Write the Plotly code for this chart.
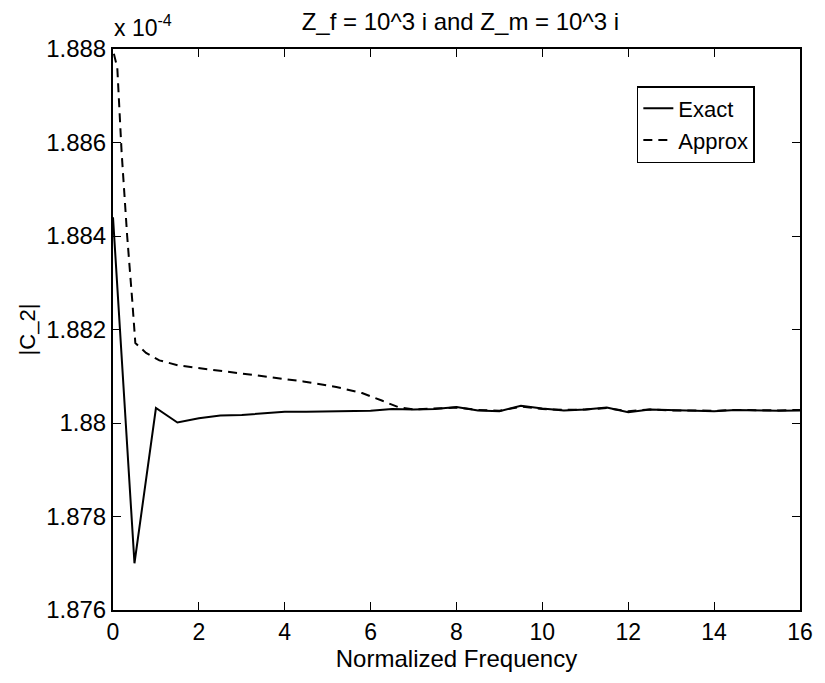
import plotly.graph_objects as go

# Values in units of 1e-4
exact_x = [0, 0.5, 1.0, 1.5, 2.0, 2.5, 3.0, 3.5, 4.0, 4.5, 5.0, 5.5, 6.0, 6.5, 7.0, 7.5,
           8.0, 8.5, 9.0, 9.5, 10.0, 10.5, 11.0, 11.5, 12.0, 12.5, 13.0, 13.5, 14.0, 14.5,
           15.0, 15.5, 16.0]
exact_y = [1.8844, 1.8770, 1.88032, 1.88001, 1.88010, 1.88016, 1.88017, 1.88020, 1.88024,
           1.88024, 1.88025, 1.88026, 1.88026, 1.88030, 1.88029, 1.88030, 1.88034, 1.88027,
           1.88025, 1.88037, 1.88031, 1.88027, 1.88029, 1.88033, 1.88023, 1.88029, 1.88028,
           1.88026, 1.88025, 1.88028, 1.88027, 1.88026, 1.88027]

approx_x = [0.02, 0.1, 0.2, 0.33, 0.45, 0.52, 0.77, 1.08, 1.53, 2.14, 2.91, 3.67, 4.43,
            5.2, 5.8, 6.26, 6.64, 7.0, 7.5, 8.0, 8.5, 9.0, 9.5, 10.0, 10.5, 11.0, 11.5,
            12.0, 12.5, 13.0, 13.5, 14.0, 14.5, 15.0, 15.5, 16.0]
approx_y = [1.8879, 1.8876, 1.8858, 1.8840, 1.8826, 1.88171, 1.88150, 1.88134, 1.88123,
            1.88116, 1.88107, 1.88098, 1.88089, 1.88077, 1.88064, 1.88048, 1.88034,
            1.88029, 1.88031, 1.88033, 1.88028, 1.88026, 1.88035, 1.88030, 1.88028,
            1.88029, 1.88032, 1.88025, 1.88029, 1.88027, 1.88027, 1.88026, 1.88028,
            1.88027, 1.88027, 1.88028]

y_ticks = [1.876, 1.878, 1.880, 1.882, 1.884, 1.886, 1.888]
y_tick_labels = ["1.876", "1.878", "1.88", "1.882", "1.884", "1.886", "1.888"]
x_ticks = [0, 2, 4, 6, 8, 10, 12, 14, 16]

FONT = "Liberation Sans, Arial, Helvetica, sans-serif"

fig = go.Figure()
fig.add_trace(go.Scatter(x=exact_x, y=exact_y, mode="lines", name="Exact",
                         line=dict(color="black", width=2)))
fig.add_trace(go.Scatter(x=approx_x, y=approx_y, mode="lines", name="Approx",
                         line=dict(color="black", width=2, dash="9px,6px")))

fig.update_layout(
    width=825, height=683,
    margin=dict(l=113, r=14, t=49, b=73, pad=0),
    paper_bgcolor="white", plot_bgcolor="white",
    font=dict(family=FONT, size=24, color="black"),
    title=dict(text="Z_f = 10^3 i and Z_m = 10^3 i", x=0.558, xanchor="center",
               y=0.968, yanchor="middle", font=dict(size=24)),
    showlegend=True,
    legend=dict(x=0.7625, y=0.934, xanchor="left", yanchor="top",
                bordercolor="black", borderwidth=1.5, bgcolor="white",
                font=dict(size=22), itemwidth=30, tracegroupgap=0),
    xaxis=dict(range=[0, 16], tickvals=x_ticks, ticks="inside", ticklen=8,
               tickcolor="black", showline=True, linecolor="black", linewidth=2,
               mirror="ticks", showgrid=False, zeroline=False,
               ticklabeloverflow="allow",
               title=dict(text="Normalized Frequency", standoff=4, font=dict(size=24)),
               tickfont=dict(size=23)),
    yaxis=dict(range=[1.876, 1.888], tickvals=y_ticks, ticktext=y_tick_labels,
               ticks="inside", ticklen=8, tickcolor="black", showline=True,
               linecolor="black", linewidth=2, mirror="ticks", showgrid=False,
               zeroline=False, title=dict(text="|C_2|", standoff=4, font=dict(size=22)),
               tickfont=dict(size=24)),
)

fig.add_annotation(text="x 10<sup>-4</sup>", xref="paper", yref="paper", x=0.0, y=1.0,
                   xanchor="left", yanchor="bottom", showarrow=False,
                   font=dict(size=23), xshift=-1, yshift=6)

fig.write_html(
    "out.html",
    config={"displayModeBar": False},
    post_script="document.body.style.margin='0';document.body.style.overflow='hidden';",
)
